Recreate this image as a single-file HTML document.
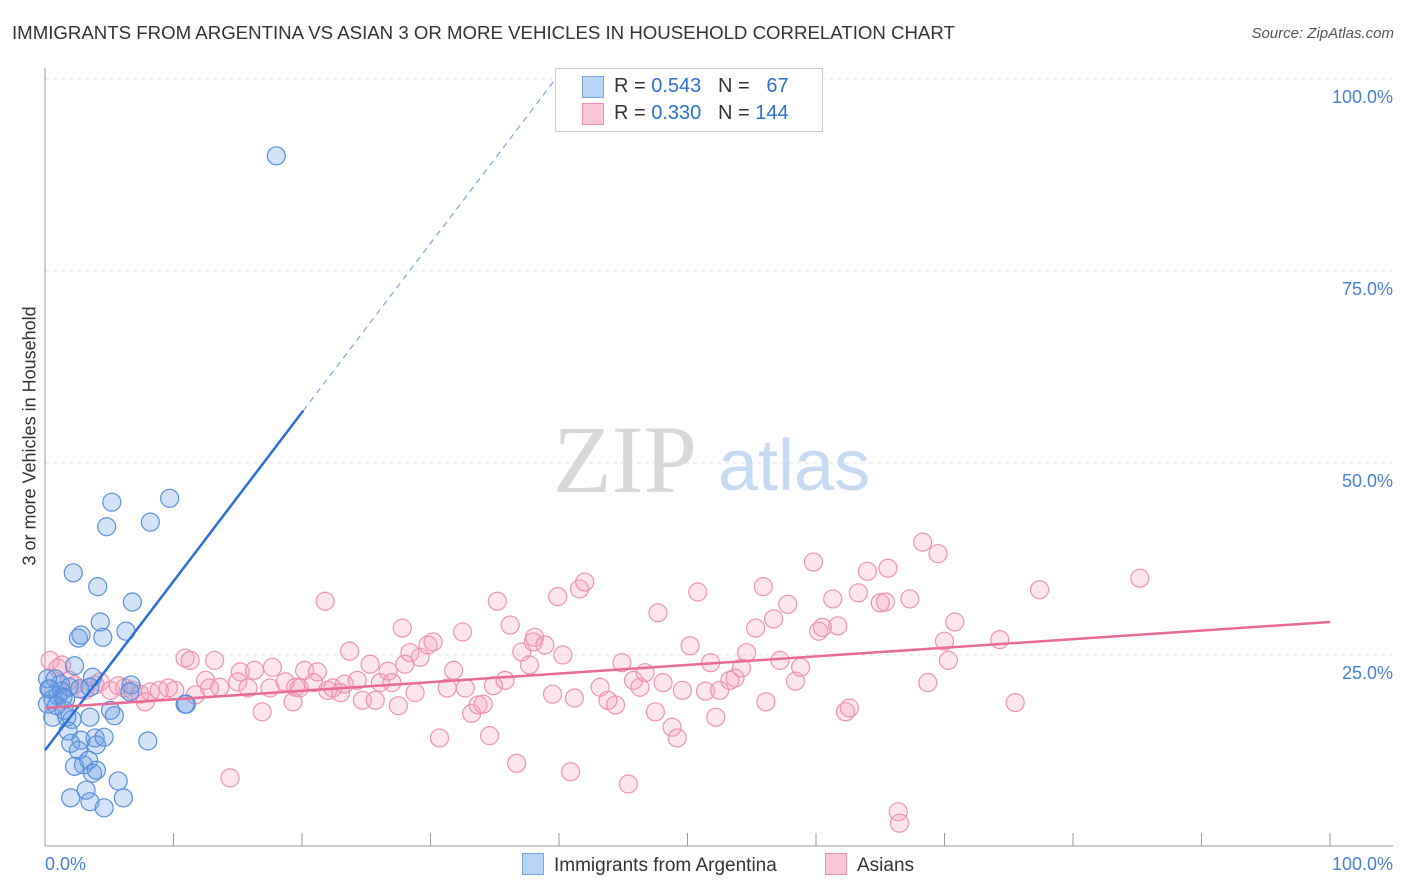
<!DOCTYPE html>
<html><head><meta charset="utf-8"><style>
body{margin:0;background:#fff;font-family:"Liberation Sans",sans-serif;}
#wrap{position:relative;width:1406px;height:892px;overflow:hidden;}
.t{position:absolute;white-space:nowrap;}
</style></head><body>
<div id="wrap">
<div class="t" style="left:12px;top:22px;font-size:18.65px;color:#333;">IMMIGRANTS FROM ARGENTINA VS ASIAN 3 OR MORE VEHICLES IN HOUSEHOLD CORRELATION CHART</div>
<div class="t" style="right:12px;top:25px;font-size:15px;color:#555;font-style:italic;">Source: ZipAtlas.com</div>
<div class="t" style="left:-80px;top:445px;width:220px;text-align:center;transform:rotate(-90deg);font-size:18px;color:#333;">3 or more Vehicles in Household</div>
<svg id="svg" width="1406" height="892" style="position:absolute;left:0;top:0"></svg>
</div>
<script>
const xTicks=[0,10,20,30,40,50,60,70,80,90,100];
const yTicks=[25,50,75,100];
const yTickLabels=["25.0%","50.0%","75.0%","100.0%"];
const blueX=[18.0,5.2,9.7,4.8,8.2,2.2,4.1,6.8,4.3,6.3,2.6,2.8,4.5,2.3,3.7,6.7,6.6,10.9,11.0,5.1,5.4,3.5,1.7,2.1,8.0,1.8,3.9,2.0,2.8,4.0,4.6,2.6,3.0,3.4,2.3,3.7,4.0,5.7,3.2,2.0,3.5,4.6,6.1,0.4,0.8,1.2,0.6,0.2,1.0,1.3,0.6,1.6,1.9,2.7,3.5,1.4,0.2,1.5,0.9,0.3];
const blueY=[90.0,44.9,45.4,41.7,42.3,35.7,33.9,31.9,29.3,28.1,27.2,27.6,27.3,23.6,22.1,21.1,20.2,18.6,18.6,17.8,17.1,16.9,16.9,16.6,13.8,15.1,14.2,13.5,13.9,13.3,14.3,12.6,10.7,11.3,10.5,9.6,10.0,8.6,7.4,6.4,5.9,5.1,6.4,20.6,21.9,21.2,19.3,18.6,19.7,20.3,16.9,19.3,20.8,20.6,20.8,19.5,21.9,17.8,18.4,20.6];
const pinkX=[0.4,1.0,1.3,1.9,2.3,3.1,3.9,4.3,5.1,5.7,6.2,6.8,7.4,7.8,8.2,8.9,9.6,10.1,10.9,11.3,11.7,12.5,13.2,12.8,13.6,14.4,15.0,15.2,15.8,16.3,16.9,17.5,17.7,18.7,19.3,19.5,19.8,20.2,20.9,21.2,21.8,22.0,22.4,23.0,23.3,23.7,24.3,24.7,25.3,25.7,26.1,26.7,27.0,27.5,27.8,28.0,28.4,28.8,29.2,29.8,30.2,30.7,31.3,31.8,32.5,32.7,33.2,33.7,34.1,34.6,34.9,35.2,35.8,36.2,36.7,37.1,37.7,38.0,38.1,38.9,39.5,39.9,40.3,40.9,41.2,41.6,42.0,43.2,43.8,44.4,44.9,45.4,45.8,46.3,46.7,47.5,47.7,48.1,48.8,49.2,49.6,50.2,50.8,51.4,51.8,52.2,52.5,53.3,53.7,54.2,54.6,55.3,55.9,56.1,56.7,57.2,57.8,58.4,58.8,59.8,60.2,60.5,61.3,61.7,62.3,62.6,63.3,64.0,65.0,65.4,65.6,66.4,66.5,67.3,68.3,68.7,69.5,70.0,70.3,70.8,74.3,75.5,77.4,85.2];
const pinkY=[24.3,23.3,23.7,21.7,21.1,20.4,21.1,21.5,20.4,21.0,20.7,20.4,19.9,18.9,20.2,20.4,20.7,20.4,24.6,24.3,19.8,21.7,24.3,20.7,20.8,9.0,21.5,22.8,20.7,23.0,17.6,20.7,23.4,21.5,18.9,20.8,20.7,23.0,21.4,22.8,32.0,20.4,20.7,20.1,21.2,25.5,21.7,19.1,23.8,19.1,21.4,22.9,21.4,18.4,28.5,23.8,25.3,20.1,24.7,26.3,26.7,14.2,20.7,23.0,28.0,20.7,17.4,18.5,18.6,14.5,21.0,32.0,21.7,28.9,10.9,25.4,23.7,26.7,27.3,26.3,19.9,32.6,25.0,9.8,19.4,33.6,34.5,20.8,19.1,18.5,24.0,8.2,21.7,20.8,22.7,17.6,30.5,21.4,15.6,14.2,20.4,26.2,33.2,20.3,24.0,16.9,20.4,21.7,22.0,23.3,25.3,28.5,33.9,18.9,29.7,24.3,31.6,21.6,23.4,37.1,28.1,28.6,32.3,28.8,17.6,18.1,33.1,35.9,31.8,31.9,36.3,4.6,3.1,32.3,39.7,21.4,38.2,26.8,24.3,29.3,27.0,18.8,33.5,35.0];
const blueLine=[12.6,2.2];
const pinkLine=[18.1,0.112];
const X0=45,X1=1330,Y0=847,Y1=79;
const sx=v=>X0+(X1-X0)*v/100;
const sy=v=>Y0-(Y0-Y1)*v/100;
const svg=document.getElementById('svg');
const NS='http://www.w3.org/2000/svg';
function mk(tag,attrs){const e=document.createElementNS(NS,tag);for(const k in attrs)e.setAttribute(k,attrs[k]);svg.appendChild(e);return e;}
yTicks.forEach((t,i)=>{
 const g=mk('line',{x1:X0,x2:1393,y1:sy(t),y2:sy(t),stroke:'#e2e2e2','stroke-dasharray':'4,4'});
 
 
 const tx=mk('text',{x:1393,y:sy(t)+24,'text-anchor':'end','font-size':18,fill:'#4a7fd4'});
 tx.textContent=yTickLabels[i];
 
 
});
const ax=mk('line',{x1:X0,x2:1393,y1:846,y2:846,stroke:'#999'});


const ay=mk('line',{x1:X0,x2:X0,y1:68,y2:846,stroke:'#999'});


xTicks.forEach(t=>{
 const l=mk('line',{x1:sx(t),x2:sx(t),y1:833,y2:846,stroke:'#999'});
 
 
});
const xl0=mk('text',{x:45,y:870,'font-size':18,fill:'#4a7fd4'});xl0.textContent='0.0%';


const xl1=mk('text',{x:1393,y:870,'font-size':18,fill:'#4a7fd4','text-anchor':'end'});xl1.textContent='100.0%';


const w1=mk('text',{x:553,y:492,'font-size':96,fill:'#d8d8d8','font-family':'Liberation Serif, serif'});w1.textContent='ZIP';


const w2=mk('text',{x:718,y:490,'font-size':72,fill:'#c8daf2'});w2.textContent='atlas';


pinkX.forEach((x,i)=>{
 const c=mk('circle',{cx:sx(x),cy:sy(pinkY[i]),r:9,fill:'rgba(244,160,188,0.28)',stroke:'#ee93b0','stroke-width':1.2});
 
 
});
blueX.forEach((x,i)=>{
 const c=mk('circle',{cx:sx(x),cy:sy(blueY[i]),r:9,fill:'rgba(110,160,230,0.3)',stroke:'#5b8fdc','stroke-width':1.2});
 
 
});
const bx2=20.1,bx3=39.7;
const bl=mk('line',{x1:sx(0),y1:sy(blueLine[0]),x2:sx(bx2),y2:sy(blueLine[0]+blueLine[1]*bx2),stroke:'#2a6fd6','stroke-width':2.5});


const bd=mk('line',{x1:sx(bx2),y1:sy(blueLine[0]+blueLine[1]*bx2),x2:sx(bx3),y2:sy(blueLine[0]+blueLine[1]*bx3),stroke:'#7aa6e4','stroke-width':1.2,'stroke-dasharray':'6,5'});


const pl=mk('line',{x1:sx(0),y1:sy(pinkLine[0]),x2:sx(100),y2:sy(pinkLine[0]+pinkLine[1]*100),stroke:'#e96a92','stroke-width':2.5});


</script>
<div class="t" style="left:555px;top:68px;width:266px;height:62px;border:1px solid #ccc;background:#fff;font-size:20px;color:#333;">
 <div style="position:absolute;left:26px;top:7px;width:20px;height:20px;background:#b9d3f5;border:1px solid #7aa6e4"></div>
 <div style="position:absolute;left:58px;top:6px">R = <span style="color:#2f6fd0">0.543</span>&nbsp;&nbsp;&nbsp;N = &nbsp;&nbsp;<span style="color:#2f6fd0">67</span></div>
 <div style="position:absolute;left:26px;top:34px;width:20px;height:20px;background:#f9c6d6;border:1px solid #ee93b0"></div>
 <div style="position:absolute;left:58px;top:33px">R = <span style="color:#2f6fd0">0.330</span>&nbsp;&nbsp;&nbsp;N = <span style="color:#2f6fd0">144</span></div>
</div>
<div class="t" style="left:522px;top:853px;font-size:19px;color:#333;">
 <span style="display:inline-block;width:20px;height:20px;background:#b9d3f5;border:1px solid #7aa6e4;vertical-align:-4px;margin-right:10px"></span>Immigrants from Argentina</div>
<div class="t" style="left:825px;top:853px;font-size:19px;color:#333;">
 <span style="display:inline-block;width:20px;height:20px;background:#f9c6d6;border:1px solid #ee93b0;vertical-align:-4px;margin-right:10px"></span>Asians</div>
</body></html>
